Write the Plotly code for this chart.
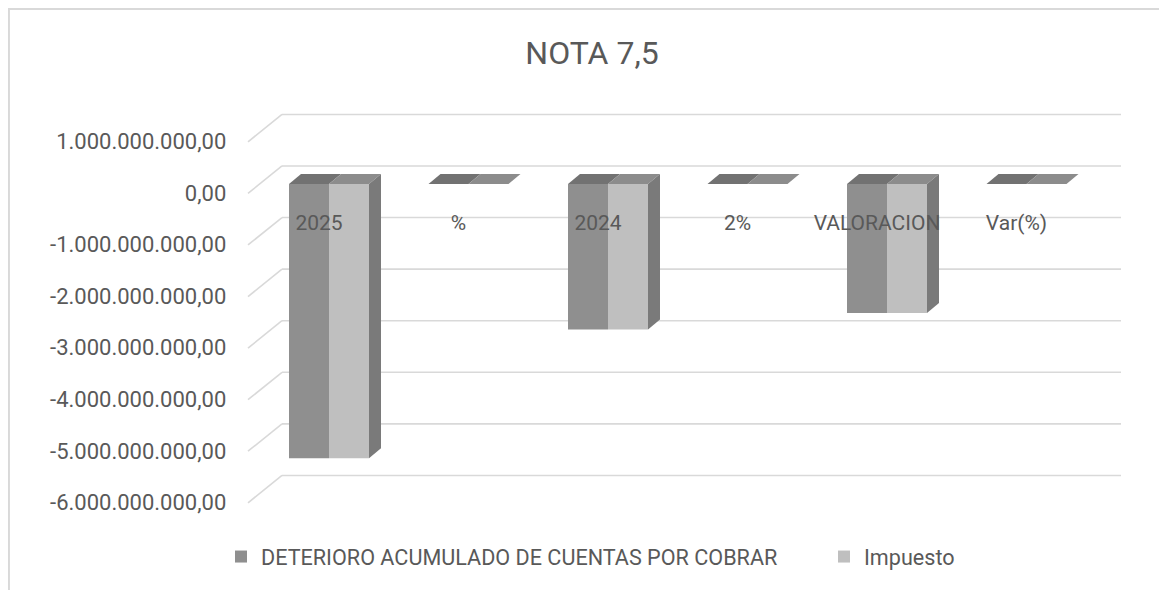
import plotly.graph_objects as go

# ---------------- data ----------------
categories = ["2025", "%", "2024", "2%", "VALORACION", "Var(%)"]
deterioro = [-5320000000, 0, -2820000000, 0, -2500000000, 0]
impuesto = [-5320000000, 0, -2820000000, 0, -2500000000, 0]
series_names = ["DETERIORO ACUMULADO DE CUENTAS POR COBRAR", "Impuesto"]
tick_values = [1e9, 0, -1e9, -2e9, -3e9, -4e9, -5e9, -6e9]
tick_labels = ["1.000.000.000,00", "0,00", "-1.000.000.000,00", "-2.000.000.000,00",
               "-3.000.000.000,00", "-4.000.000.000,00", "-5.000.000.000,00",
               "-6.000.000.000,00"]
title_text = "NOTA 7,5"

# ---------------- layout geometry ----------------
W, H = 1167, 590
OFF = 8                      # page body margin in the browser


def px(x):
    return (x - OFF) / W


def py(y):
    return 1 - (y - OFF) / H


PPU = 51.57 / 1e9            # pixels per unit on the value axis
Y_ZERO_PX = 184              # screen row of value 0 on the bar front faces
Y_RANGE = [-6.4e9, 1.5e9]
top_px = Y_ZERO_PX - Y_RANGE[1] * PPU
bot_px = Y_ZERO_PX - Y_RANGE[0] * PPU
y_domain = [py(bot_px), py(top_px)]

CAT_W = 139.5
FIRST_CENTER = 329
x_domain = [px(FIRST_CENTER - CAT_W / 2),
            px(FIRST_CENTER + (len(categories) - 0.5) * CAT_W)]
BAR_PX = 40                  # width of one bar in pixels
DX, DY = 12, 10              # 3D depth offset in pixels
FRONT_OFF = 9.4              # front floor edge below bar face plane
BACK_OFF = 18                # back wall above bar face plane

TEXT = "#595959"
FONT = "Roboto"
front_colors = ["#8f8f8f", "#bfbfbf"]
top_colors = ["#727272", "#8c8c8c"]
side_color = "#7a7a7a"
grid_color = "#d9d9d9"

fig = go.Figure()
for k, (name, vals, col) in enumerate(zip(series_names, [deterioro, impuesto], front_colors)):
    fig.add_trace(go.Bar(x=categories, y=vals, name=name,
                         legend="legend" if k == 0 else "legend2",
                         marker=dict(color=col, line=dict(width=0)),
                         hoverinfo="skip"))

shapes = []
# chart border (left + top)
shapes.append(dict(type="line", xref="paper", yref="paper", x0=0.0008, x1=0.0008,
                   y0=0, y1=1, line=dict(color=grid_color, width=2)))
shapes.append(dict(type="line", xref="paper", yref="paper", x0=0, x1=1,
                   y0=0.9985, y1=0.9985, line=dict(color=grid_color, width=2)))

# back wall gridlines + floor/side diagonals, anchored to tick values
for tv in tick_values:
    shapes.append(dict(type="line", xref="paper", yref="y", ysizemode="pixel",
                       yanchor=tv, x0=px(282), x1=px(1121), y0=BACK_OFF, y1=BACK_OFF,
                       layer="below", line=dict(color=grid_color, width=1.6)))
    shapes.append(dict(type="line", xref="paper", yref="y", ysizemode="pixel",
                       yanchor=tv, x0=px(248), x1=px(282), y0=-FRONT_OFF, y1=BACK_OFF,
                       layer="below", line=dict(color=grid_color, width=1.6)))

# 3D faces for the bars
dy_data = DY / PPU
all_series = [deterioro, impuesto]
for i, cat in enumerate(categories):
    for j, vals in enumerate(all_series):
        v = vals[i]
        top = max(v, 0)
        xl = -BAR_PX + j * BAR_PX
        xr = xl + BAR_PX
        shapes.append(dict(type="path", xref="x", yref="y", xsizemode="pixel",
                           ysizemode="pixel", xanchor=i, yanchor=top,
                           path=f"M{xl},0 L{xl + DX},{DY} L{xr + DX},{DY} L{xr},0 Z",
                           fillcolor=top_colors[j], line=dict(width=0), layer="between"))
    v = all_series[-1][i]
    top, bot = max(v, 0), min(v, 0)
    if top != bot:
        xr = BAR_PX
        shapes.append(dict(type="path", xref="x", yref="y", xsizemode="pixel",
                           xanchor=i,
                           path=(f"M{xr},{top:.0f} L{xr + DX},{top + dy_data:.0f} "
                                 f"L{xr + DX},{bot + dy_data:.0f} L{xr},{bot:.0f} Z"),
                           fillcolor=side_color, line=dict(width=0), layer="between"))

legend_font = dict(family=FONT, size=21.6, color=TEXT)
fig.update_layout(
    width=W, height=H,
    margin=dict(l=0, r=0, t=0, b=0),
    paper_bgcolor="white", plot_bgcolor="rgba(0,0,0,0)",
    barmode="group", bargap=1 - 2 * BAR_PX / CAT_W, bargroupgap=0,
    title=dict(text=title_text, x=px(592), xanchor="center", y=py(53),
               yanchor="middle", font=dict(family=FONT, size=32, color=TEXT)),
    font=dict(family=FONT, color=TEXT),
    xaxis=dict(type="category", categoryorder="array", categoryarray=categories,
               domain=x_domain, anchor="free", position=py(208),
               showgrid=False, zeroline=False, showline=False, ticks="",
               ticklabelshift=-10, tickfont=dict(family=FONT, size=21, color=TEXT),
               fixedrange=True),
    yaxis=dict(range=Y_RANGE, domain=y_domain, anchor="x",
               tickmode="array", tickvals=tick_values, ticktext=tick_labels,
               showgrid=False, zeroline=False, showline=False, ticks="",
               ticklabelstandoff=32, ticklabelshift=9,
               tickfont=dict(family=FONT, size=22, color=TEXT), fixedrange=True),
    legend=dict(orientation="h", x=(221 - OFF) / W, xanchor="left", y=py(557),
                yanchor="middle", font=legend_font, bgcolor="rgba(0,0,0,0)"),
    legend2=dict(orientation="h", x=(824 - OFF) / W, xanchor="left", y=py(557),
                 yanchor="middle", font=legend_font, bgcolor="rgba(0,0,0,0)"),
    shapes=shapes,
    showlegend=True,
)

fig.write_html("out.html")
